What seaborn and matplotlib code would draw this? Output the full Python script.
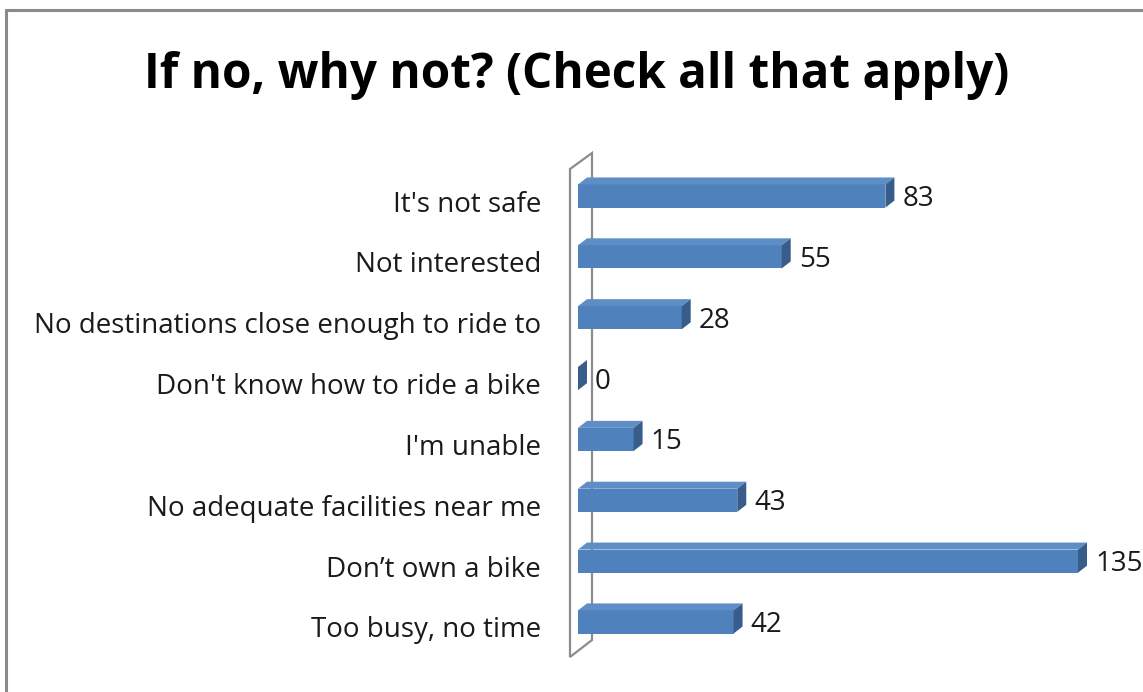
import matplotlib
matplotlib.use("Agg")
import matplotlib.pyplot as plt
from matplotlib.patches import Polygon
from matplotlib.lines import Line2D
import matplotlib.transforms as mtransforms
import seaborn as sns
import pandas as pd

# Survey responses
categories = [
    "It's not safe",
    "Not interested",
    "No destinations close enough to ride to",
    "Don't know how to ride a bike",
    "I'm unable",
    "No adequate facilities near me",
    "Don\u2019t own a bike",
    "Too busy, no time",
]
counts = [83, 55, 28, 0, 15, 43, 135, 42]
title = "If no, why not? (Check all that apply)"

FRONT = "#4F81BD"
SIDE = "#385D8A"
TOP = "#5F8DC6"
WALL = "#8C8C8C"
TEXT = "#1A1A1A"
LABEL_SIZE = 20

sns.set_theme(style="white")
plt.rcParams["font.family"] = ["Open Sans", "DejaVu Sans"]

W, H = 1143, 692
fig = plt.figure(figsize=(W / 100, H / 100), dpi=100)
fig.patch.set_facecolor("white")

# Plot area in pixel coordinates
left_px, right_px, top_px, bottom_px = 578, 1078, 165.6, 652.4
ax = fig.add_axes([left_px / W, 1 - bottom_px / H,
                   (right_px - left_px) / W, (bottom_px - top_px) / H])

df = pd.DataFrame({"category": categories, "count": counts})
sns.barplot(data=df, x="count", y="category", orient="h", color=FRONT,
            saturation=1, width=0.38, ax=ax, zorder=3)

ax.set_xlim(0, 135)
ax.set_ylim(len(categories) - 0.5, -0.5)
ax.set_xlabel("")
ax.set_ylabel("")
ax.set_xticks([])
ax.tick_params(axis="y", length=0, pad=26.5, labelsize=LABEL_SIZE, labelcolor=TEXT)
for s in ax.spines.values():
    s.set_visible(False)
ax.set_facecolor("none")

# Category labels sit a little below the bar centres
label_shift = mtransforms.ScaledTranslation(0, -5 / 100, fig.dpi_scale_trans)
for lbl in ax.get_yticklabels():
    lbl.set_transform(lbl.get_transform() + label_shift)

# 3-D depth of each bar: side and top faces offset in pixels
dx, dy = 9, 7
fig.canvas.draw()
for bar in ax.patches:
    bar.set_edgecolor("none")
    (x0, y0), (x1, y1) = ax.transData.transform(
        [(bar.get_x(), bar.get_y() + bar.get_height()),
         (bar.get_x() + bar.get_width(), bar.get_y())])
    # y0 is the lower edge of the bar in display coords, y1 the upper edge
    top_face = Polygon([(x0, y1), (x1, y1), (x1 + dx, y1 + dy), (x0 + dx, y1 + dy)],
                       closed=True, transform=None, facecolor=TOP,
                       edgecolor="none", zorder=4)
    side_face = Polygon([(x1, y0), (x1, y1), (x1 + dx, y1 + dy), (x1 + dx, y0 + dy)],
                        closed=True, transform=None, facecolor=SIDE,
                        edgecolor="none", zorder=4)
    fig.add_artist(top_face)
    fig.add_artist(side_face)

# Side wall behind the bars
wx_front, wx_back = left_px - 8, left_px + 14
wall_top_front, wall_bot_front = 169, 657
wall_pts = [(wx_front, H - wall_top_front), (wx_back, H - wall_top_front + 16),
            (wx_back, H - wall_bot_front + 17), (wx_front, H - wall_bot_front)]
fig.add_artist(Polygon(wall_pts, closed=True, transform=None,
                       facecolor="white", edgecolor=WALL, linewidth=1.6, zorder=-1))

# Value labels
offset = mtransforms.ScaledTranslation(17 / 100, -3 / 100, fig.dpi_scale_trans)
for bar, v in zip(ax.patches, counts):
    ax.text(bar.get_width(), bar.get_y() + bar.get_height() / 2, f"{v}",
            va="center", ha="left", fontsize=LABEL_SIZE, color=TEXT,
            transform=ax.transData + offset, zorder=5)

fig.text(577 / W, 1 - 75 / H, title, ha="center", va="center",
         fontsize=34.3, fontweight="bold", color="black")

# Chart frame
fig.add_artist(Line2D([6 / W, 6 / W], [0, 1 - 10 / H], transform=fig.transFigure,
                      color="#8A8A8A", linewidth=2.2))
fig.add_artist(Line2D([6 / W, 1], [1 - 10 / H, 1 - 10 / H], transform=fig.transFigure,
                      color="#8A8A8A", linewidth=2.2))

fig.savefig("out.png", dpi=100, facecolor="white")
